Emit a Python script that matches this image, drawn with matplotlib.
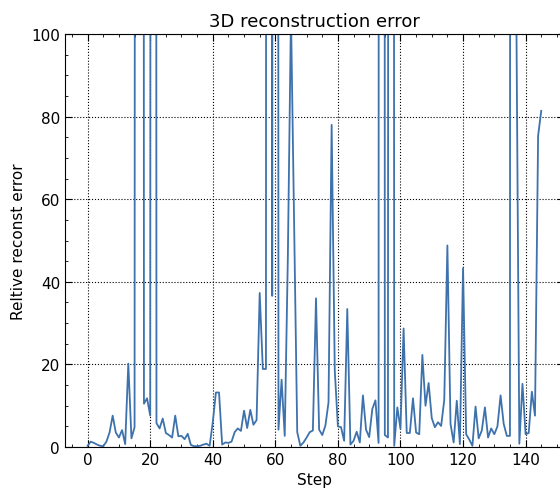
import numpy as np
import matplotlib
matplotlib.use("Agg")
import matplotlib.pyplot as plt
from matplotlib.ticker import MultipleLocator

# reconstruction error per step (values above 100 run off the top of the plot)
err = [
    0.3, 1.3, 1.0, 0.6, 0.3, 0.2, 1.3, 3.5, 7.6, 3.5,      # 0-9
    2.3, 4.1, 0.7, 20.2, 2.1, 4.8, 1500, 2200, 10.5, 11.8,  # 10-19
    7.6, 1800, 5.8, 4.5, 6.9, 3.4, 2.9, 2.3, 7.6, 2.6,      # 20-29
    2.7, 1.9, 3.2, 0.5, 0.2, 0.2, 0.3, 0.6, 0.8, 0.3,      # 30-39
    6.0, 13.2, 13.2, 0.6, 1.1, 1.0, 1.3, 3.6, 4.5, 3.9,    # 40-49
    8.8, 4.6, 9.0, 5.4, 6.5, 37.3, 18.9, 18.9, 2500, 36.6,  # 50-59
    1900, 4.2, 16.3, 2.7, 46.0, 105.0, 55.0, 3.6, 0.3, 1.1, # 60-69
    2.3, 3.6, 4.0, 36.0, 4.2, 2.9, 5.2, 10.8, 78.0, 18.5,  # 70-79
    5.0, 4.8, 1.5, 33.4, 0.6, 1.5, 3.7, 1.1, 12.5, 4.2,    # 80-89
    2.4, 9.2, 11.3, 1.0, 3000, 2.9, 2.3, 1700, 0.3, 9.6,   # 90-99
    4.4, 28.7, 3.4, 3.4, 11.8, 3.5, 3.1, 22.3, 10.0, 15.5,  # 100-109
    7.0, 4.8, 6.0, 5.1, 11.4, 48.8, 5.6, 1.1, 11.2, 0.7,   # 110-119
    43.3, 3.1, 1.8, 0.3, 9.8, 2.1, 4.0, 9.6, 2.3, 4.5,     # 120-129
    3.1, 5.0, 12.5, 5.6, 2.7, 2.7, 2600, 110.0, 0.8, 15.3, # 130-139
    3.1, 3.4, 13.4, 7.6, 75.4, 81.4,                       # 140-145
]
steps = np.arange(len(err))

fig = plt.figure(figsize=(5.6, 4.89), dpi=100)
ax = fig.add_axes([0.116, 0.0838, 0.891, 0.8446])

ax.plot(steps, err, color='#3d72ad', linewidth=1.3)
ax.set_xlim(-7.25, 152.25)
ax.set_ylim(0, 100)

ax.set_title('3D reconstruction error', fontsize=13)
ax.set_xlabel('Step', fontsize=11)
ax.set_ylabel('Reltive reconst error', fontsize=11)

ax.xaxis.set_major_locator(MultipleLocator(20))
ax.xaxis.set_minor_locator(MultipleLocator(5))
ax.yaxis.set_major_locator(MultipleLocator(20))
ax.yaxis.set_minor_locator(MultipleLocator(5))
ax.tick_params(which='both', direction='in', top=True, right=True, labelsize=11)
ax.tick_params(which='major', length=5)
ax.tick_params(which='minor', length=2.5)

ax.grid(True, which='major', color='black', linestyle=':', linewidth=0.8)

fig.savefig('out.png', dpi=100)
